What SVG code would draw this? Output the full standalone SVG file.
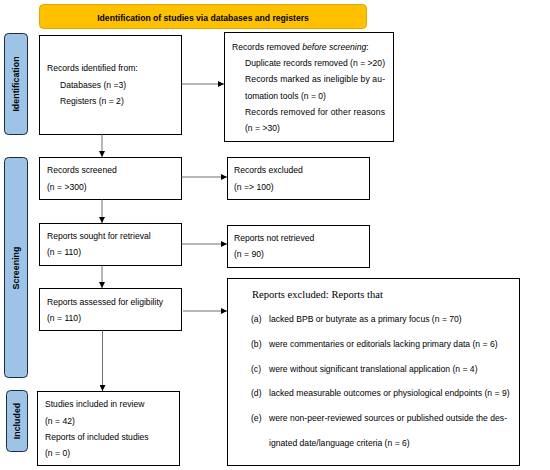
<svg xmlns="http://www.w3.org/2000/svg" width="550" height="470" viewBox="0 0 550 470">
<style>
.box{fill:#fff;stroke:#000;stroke-width:1}
.side{fill:#9DC3E6;stroke:#1F2A3A;stroke-width:1}
.t{font-family:"Liberation Sans",Arial,sans-serif;font-size:8.6px;fill:#000}
.s{font-family:"Liberation Serif","Times New Roman",serif;font-size:10.6px;fill:#000}
.sl{font-family:"Liberation Sans",Arial,sans-serif;font-size:8.9px;font-weight:bold;fill:#000}
.c{stroke:#707070;stroke-width:1;fill:none;marker-end:url(#ah)}
</style>
<defs>
<marker id="ah" markerWidth="6" markerHeight="6" refX="6" refY="3" orient="auto" markerUnits="userSpaceOnUse">
<path d="M0,0 L6,3 L0,6 Z" fill="#000"/>
</marker>
</defs>
<g id="banner">
<rect x="39.5" y="4.5" width="327" height="24" rx="4" fill="#FFC000" stroke="#E0A800"/>
<text x="203" y="21" text-anchor="middle" class="sl" style="font-size:8.6px">Identification of studies via databases and registers</text>
</g>
<g id="side-identification">
<rect class="side" x="4.5" y="33.5" width="23" height="101" rx="4"/>
<text class="sl" transform="translate(19,84) rotate(-90)" text-anchor="middle">Identification</text>
</g>
<g id="side-screening">
<rect class="side" x="4.5" y="157.5" width="23" height="220" rx="4"/>
<text class="sl" transform="translate(19,268) rotate(-90)" text-anchor="middle">Screening</text>
</g>
<g id="side-included">
<rect class="side" x="6.5" y="390.5" width="21" height="61" rx="4"/>
<text class="sl" transform="translate(20,421) rotate(-90)" text-anchor="middle">Included</text>
</g>
<g id="n-identified">
<rect class="box" x="39.5" y="35.5" width="142" height="99"/>
<text class="t" x="47" y="71">Records identified from:</text>
<text class="t" x="60" y="88">Databases (n =3)</text>
<text class="t" x="60" y="104">Registers (n = 2)</text>
</g>
<g id="n-removed">
<rect class="box" x="224.5" y="32.5" width="169" height="109"/>
<text class="t" x="232" y="50">Records removed <tspan font-style="italic">before screening</tspan>:</text>
<text class="t" x="245" y="66" textLength="140" lengthAdjust="spacing">Duplicate records removed (n = &gt;20)</text>
<text class="t" x="245" y="82" textLength="140" lengthAdjust="spacing">Records marked as ineligible by au-</text>
<text class="t" x="245" y="99">tomation tools (n = 0)</text>
<text class="t" x="245" y="115" textLength="140" lengthAdjust="spacing">Records removed for other reasons</text>
<text class="t" x="245" y="131">(n = &gt;30)</text>
</g>
<g id="n-screened">
<rect class="box" x="39.5" y="157.5" width="142" height="42"/>
<text class="t" x="47" y="173">Records screened</text>
<text class="t" x="47" y="190">(n = &gt;300)</text>
</g>
<g id="n-excluded">
<rect class="box" x="227.5" y="157.5" width="142" height="42"/>
<text class="t" x="234" y="173">Records excluded</text>
<text class="t" x="234" y="190">(n =&gt; 100)</text>
</g>
<g id="n-sought">
<rect class="box" x="39.5" y="223.5" width="142" height="42"/>
<text class="t" x="47" y="239">Reports sought for retrieval</text>
<text class="t" x="47" y="255">(n = 110)</text>
</g>
<g id="n-notretrieved">
<rect class="box" x="227.5" y="225.5" width="142" height="42"/>
<text class="t" x="234" y="241">Reports not retrieved</text>
<text class="t" x="234" y="257">(n = 90)</text>
</g>
<g id="n-assessed">
<rect class="box" x="39.5" y="288.5" width="142" height="42"/>
<text class="t" x="47" y="305">Reports assessed for eligibility</text>
<text class="t" x="47" y="321">(n = 110)</text>
</g>
<g id="n-reportsexcluded">
<rect class="box" x="227.5" y="278.5" width="292" height="187"/>
<text class="s" x="252" y="298">Reports excluded: Reports that</text>
<text class="t" x="251" y="322">(a)</text>
<text class="t" x="269" y="322">lacked BPB or butyrate as a primary focus (n = 70)</text>
<text class="t" x="251" y="347">(b)</text>
<text class="t" x="269" y="347">were commentaries or editorials lacking primary data (n = 6)</text>
<text class="t" x="251" y="372">(c)</text>
<text class="t" x="269" y="372">were without significant translational application (n = 4)</text>
<text class="t" x="251" y="396">(d)</text>
<text class="t" x="269" y="396">lacked measurable outcomes or physiological endpoints (n = 9)</text>
<text class="t" x="251" y="421">(e)</text>
<text class="t" x="269" y="421" textLength="238" lengthAdjust="spacing">were non-peer-reviewed sources or published outside the des-</text>
<text class="t" x="269" y="446">ignated date/language criteria (n = 6)</text>
</g>
<g id="n-included">
<rect class="box" x="37.5" y="391.5" width="142" height="74"/>
<text class="t" x="45" y="407">Studies included in review</text>
<text class="t" x="45" y="424">(n = 42)</text>
<text class="t" x="45" y="440">Reports of included studies</text>
<text class="t" x="45" y="456">(n = 0)</text>
</g>
<g id="connectors">
<line class="c" x1="181.5" y1="84" x2="224" y2="84"/>
<line class="c" x1="102" y1="134.5" x2="102" y2="157"/>
<line class="c" x1="181.5" y1="177" x2="227" y2="177"/>
<line class="c" x1="102" y1="199.5" x2="102" y2="223"/>
<line class="c" x1="181.5" y1="244" x2="227" y2="244"/>
<line class="c" x1="102" y1="265.5" x2="102" y2="288"/>
<line class="c" x1="183" y1="311" x2="227" y2="311"/>
<line class="c" x1="102.5" y1="330.5" x2="102.5" y2="391"/>
</g>
</svg>
